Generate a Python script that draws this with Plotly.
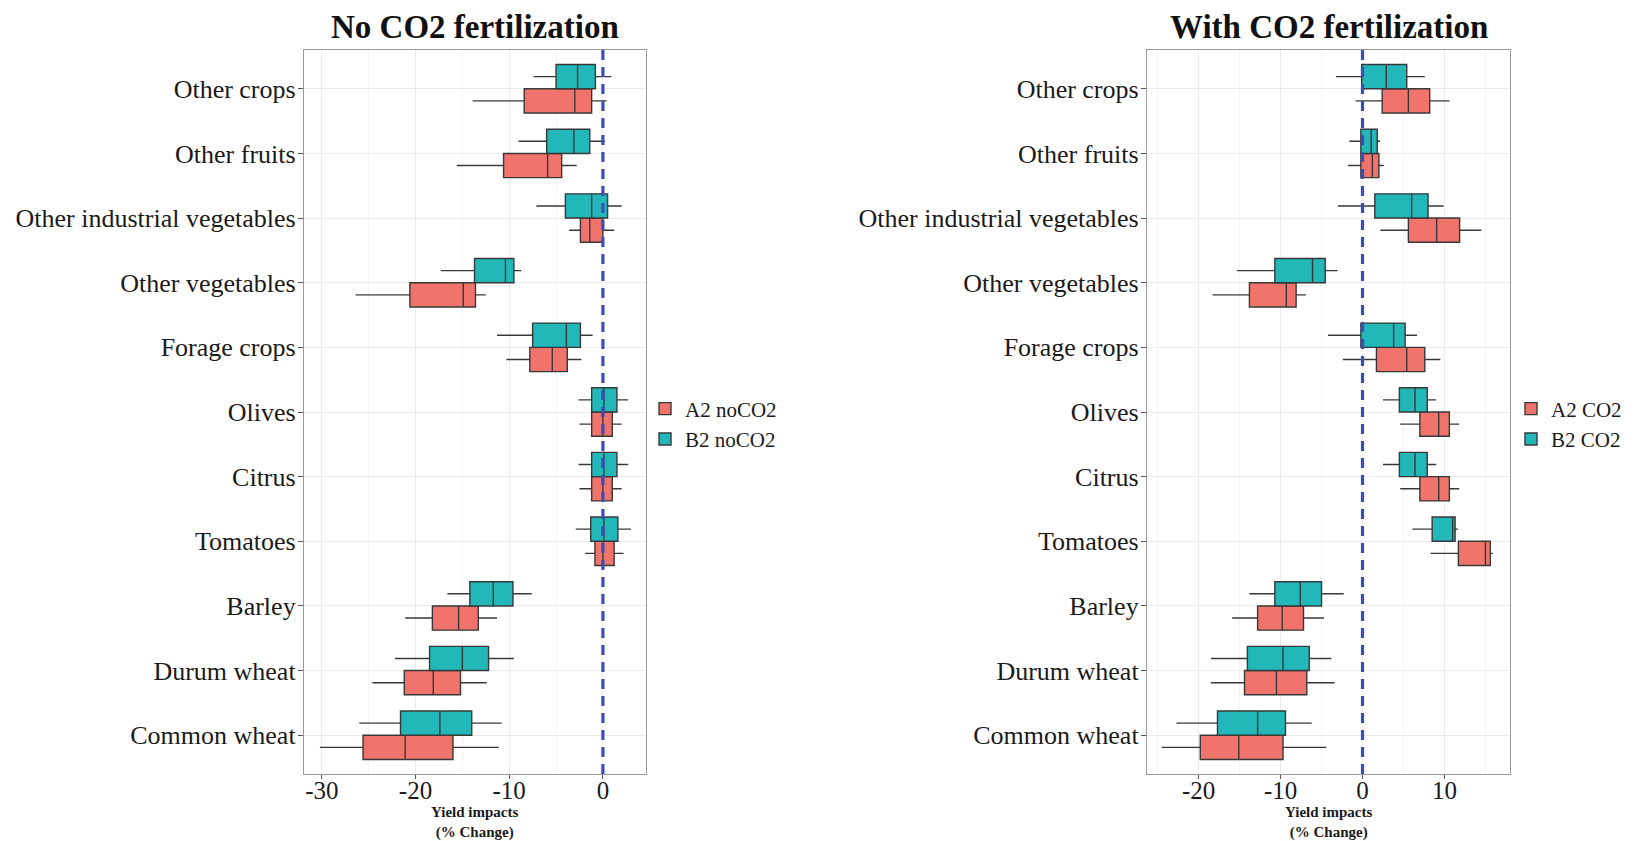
import plotly.graph_objects as go

# ---------------- data ----------------
crops = ["Common wheat", "Durum wheat", "Barley", "Tomatoes", "Citrus", "Olives",
         "Forage crops", "Other vegetables", "Other industrial vegetables",
         "Other fruits", "Other crops"]

# No CO2 fertilization (order as in `crops`)
a2_no_low = [-30.2, -24.6, -21.1, -1.9, -2.5, -2.5, -10.3, -26.4, -3.6, -15.6, -13.9]
a2_no_q1 = [-25.6, -21.2, -18.2, -0.85, -1.2, -1.2, -7.8, -20.6, -2.4, -10.6, -8.4]
a2_no_med = [-21.1, -18.1, -15.4, 0.0, 0.0, 0.0, -5.4, -14.9, -1.4, -5.9, -3.0]
a2_no_q3 = [-16.0, -15.2, -13.3, 1.2, 1.0, 1.0, -3.8, -13.6, 0.0, -4.4, -1.2]
a2_no_high = [-11.1, -12.4, -11.3, 2.2, 2.0, 2.0, -2.3, -12.5, 1.2, -2.8, 0.4]

b2_no_low = [-26.0, -22.2, -16.6, -2.9, -2.6, -2.6, -11.3, -17.3, -7.1, -9.0, -7.4]
b2_no_q1 = [-21.6, -18.5, -14.2, -1.3, -1.2, -1.2, -7.5, -13.7, -4.0, -6.0, -5.0]
b2_no_med = [-17.4, -15.0, -11.7, 0.1, 0.1, 0.1, -3.9, -10.4, -1.2, -3.1, -2.7]
b2_no_q3 = [-14.0, -12.2, -9.6, 1.6, 1.5, 1.5, -2.4, -9.5, 0.5, -1.4, -0.8]
b2_no_high = [-10.8, -9.5, -7.6, 3.0, 2.7, 2.7, -1.1, -8.7, 2.0, 0.2, 0.9]

# With CO2 fertilization
a2_co_low = [-24.5, -18.5, -15.9, 8.3, 4.6, 4.6, -2.4, -18.3, 2.2, -1.75, -0.85]
a2_co_q1 = [-19.8, -14.4, -12.8, 11.7, 7.0, 7.0, 1.7, -13.8, 5.6, -0.2, 2.4]
a2_co_med = [-15.1, -10.5, -9.8, 15.0, 9.3, 9.3, 5.4, -9.3, 9.05, 1.2, 5.6]
a2_co_q3 = [-9.7, -6.8, -7.2, 15.6, 10.6, 10.6, 7.6, -8.1, 11.85, 2.0, 8.2]
a2_co_high = [-4.4, -3.4, -4.7, 15.9, 11.8, 11.8, 9.5, -6.9, 14.5, 2.6, 10.6]

b2_co_low = [-22.7, -18.5, -13.8, 6.1, 2.5, 2.5, -4.2, -15.3, -3.0, -1.6, -3.25]
b2_co_q1 = [-17.7, -14.05, -10.7, 8.5, 4.5, 4.5, -0.2, -10.7, 1.5, -0.2, -0.1]
b2_co_med = [-12.8, -9.7, -7.6, 11.0, 6.4, 6.4, 3.8, -6.1, 6.0, 1.05, 2.9]
b2_co_q3 = [-9.4, -6.5, -5.0, 11.3, 7.9, 7.9, 5.2, -4.55, 8.0, 1.8, 5.4]
b2_co_high = [-6.2, -3.8, -2.3, 11.65, 9.0, 9.0, 6.65, -3.05, 9.9, 2.15, 7.6]

left_names = ["A2 noCO2", "B2 noCO2"]
right_names = ["A2 CO2", "B2 CO2"]
titles = ["No CO2 fertilization", "With CO2 fertilization"]
x_ticks_left = [-30, -20, -10, 0]
x_ticks_right = [-20, -10, 0, 10]
x_title = "Yield impacts<br>(% Change)"

RED = "#F0746B"
TEAL = "#22B8BA"
SERIF = "Liberation Serif, Times New Roman, serif"

fig = go.Figure()


def add_box(name, low, q1, med, q3, high, color, xa, ya, leg, agroup):
    fig.add_trace(go.Box(
        name=name, y=crops, orientation="h",
        lowerfence=low, q1=q1, median=med, q3=q3, upperfence=high,
        fillcolor=color, line=dict(color="#383838", width=1.4),
        whiskerwidth=0, xaxis=xa, yaxis=ya, legend=leg,
        alignmentgroup=agroup, offsetgroup=name,
        hoverinfo="skip",
    ))


add_box(left_names[0], a2_no_low, a2_no_q1, a2_no_med, a2_no_q3, a2_no_high, RED, "x", "y", "legend", "L")
add_box(left_names[1], b2_no_low, b2_no_q1, b2_no_med, b2_no_q3, b2_no_high, TEAL, "x", "y", "legend", "L")
add_box(right_names[0], a2_co_low, a2_co_q1, a2_co_med, a2_co_q3, a2_co_high, RED, "x2", "y2", "legend2", "R")
add_box(right_names[1], b2_co_low, b2_co_q1, b2_co_med, b2_co_q3, b2_co_high, TEAL, "x2", "y2", "legend2", "R")

# the page body adds an 8px margin; size the figure so it fits the window
OFF = 8
W, H = 1634 - OFF, 841 - OFF
top, bottom = 50 - OFF, 774 - OFF
mt, mb = top, H - bottom
ph = bottom - top
left_dom = [(304 - OFF) / W, (646 - OFF) / W]
right_dom = [(1147 - OFF) / W, (1510 - OFF) / W]

common_x = dict(
    showgrid=True, gridcolor="#EBEBEB", gridwidth=1.2,
    minor=dict(dtick=5, showgrid=True, gridcolor="#F3F3F3", gridwidth=0.8),
    showline=True, linecolor="#9A9A9A", linewidth=1.3, mirror=True,
    ticks="outside", ticklen=4, tickcolor="#555555", tickwidth=1.2,
    tickfont=dict(family=SERIF, size=25, color="#1A1A1A"),
    ticklabelstandoff=-10,
    zeroline=False, automargin=False,
)
common_y = dict(
    type="category", categoryorder="array", categoryarray=crops,
    range=[-0.6, len(crops) - 0.4],
    showgrid=True, gridcolor="#EBEBEB", gridwidth=1.2,
    showline=True, linecolor="#9A9A9A", linewidth=1.3, mirror=True,
    ticks="outside", ticklen=5, tickcolor="#555555", tickwidth=1.2,
    tickfont=dict(family=SERIF, size=26, color="#1A1A1A"),
    ticklabelstandoff=-3,
    zeroline=False, automargin=False,
)

leg_y = 1 - (424 - 50) / ph
fig.update_layout(
    width=W, height=H,
    margin=dict(l=0, r=0, t=mt, b=mb),
    paper_bgcolor="white", plot_bgcolor="white",
    boxmode="group", boxgap=0.25, boxgroupgap=0,
    xaxis=dict(domain=left_dom, range=[-31.9, 4.6], tickvals=x_ticks_left,
               ticktext=[str(v) for v in x_ticks_left], anchor="y", **common_x),
    yaxis=dict(domain=[0, 1], anchor="x", **common_y),
    xaxis2=dict(domain=right_dom, range=[-26.3, 18.0], tickvals=x_ticks_right,
                ticktext=[str(v) for v in x_ticks_right], anchor="y2", **common_x),
    yaxis2=dict(domain=[0, 1], anchor="x2", **common_y),
    legend=dict(x=(645 - OFF) / W, y=leg_y, xanchor="left", yanchor="middle",
                font=dict(family=SERIF, size=21, color="#1A1A1A"),
                bgcolor="rgba(0,0,0,0)", tracegroupgap=0),
    legend2=dict(x=(1511 - OFF) / W, y=leg_y, xanchor="left", yanchor="middle",
                 font=dict(family=SERIF, size=21, color="#1A1A1A"),
                 bgcolor="rgba(0,0,0,0)", tracegroupgap=0),
    showlegend=True,
)

# dashed zero lines
for xr, yr in [("x", "y domain"), ("x2", "y2 domain")]:
    fig.add_shape(type="line", xref=xr, yref=yr, x0=0, x1=0, y0=0, y1=1,
                  line=dict(color="#3A4DB8", width=3.2, dash="10px,7px"), layer="above")

# panel titles and x-axis titles
for i, t in enumerate(titles):
    dom = left_dom if i == 0 else right_dom
    cx = (dom[0] + dom[1]) / 2
    fig.add_annotation(text="<b>" + t + "</b>", xref="paper", yref="paper",
                       x=cx, y=1, yanchor="middle", xanchor="center",
                       yshift=23, showarrow=False,
                       font=dict(family=SERIF, size=33, color="#111111"))
    fig.add_annotation(text="<b>" + x_title + "</b>", xref="paper", yref="paper",
                       x=cx, y=0, yanchor="top", xanchor="center",
                       yshift=-28, showarrow=False,
                       font=dict(family=SERIF, size=15, color="#1A1A1A"))

fig.write_html("out.html")
